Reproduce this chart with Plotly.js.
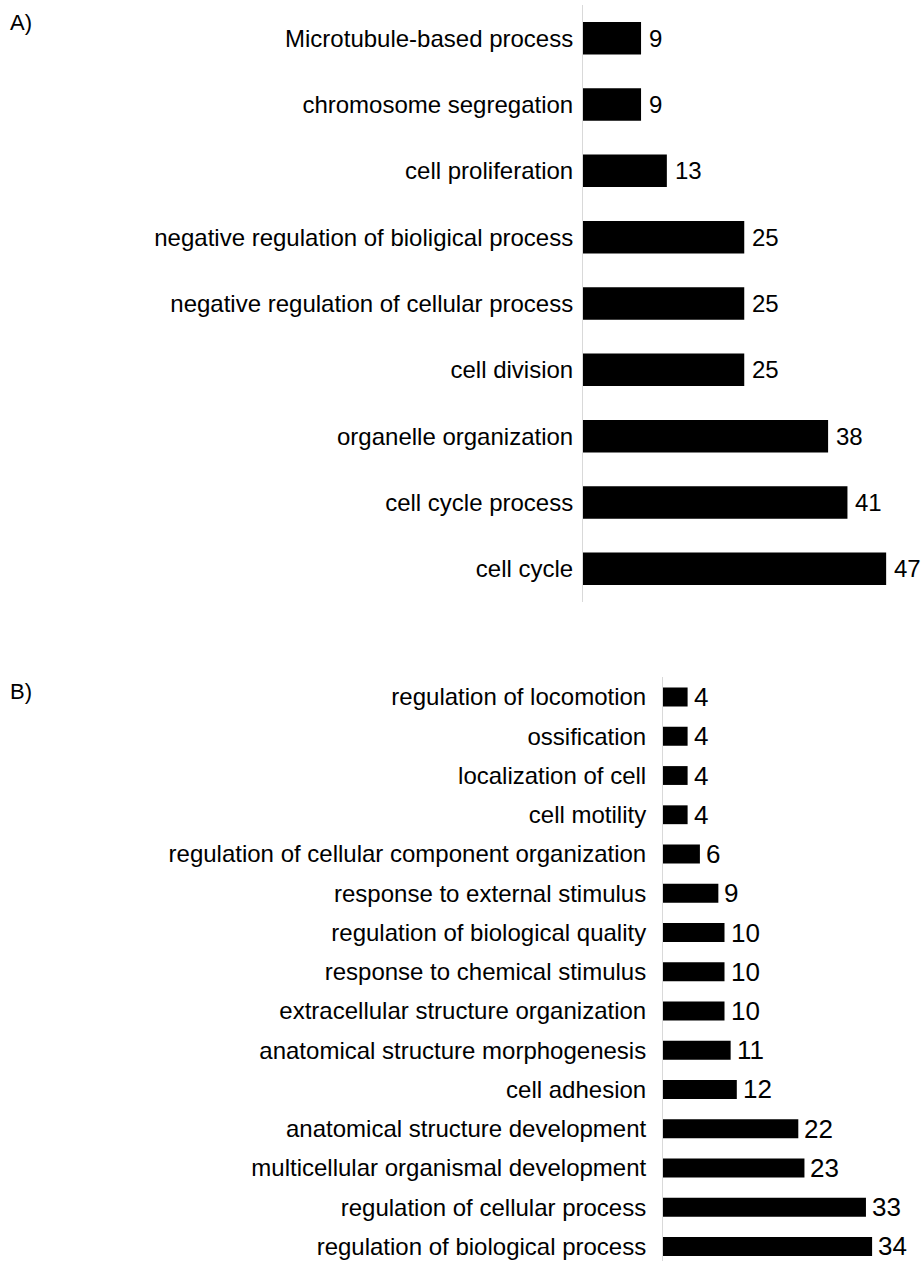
<!DOCTYPE html>
<html>
<head>
<meta charset="utf-8">
<script src="https://cdn.plot.ly/plotly-3.0.1.min.js"></script>
<style>html,body{margin:0;padding:0;background:#fff;}#chart{width:923px;height:1261px;}</style>
</head>
<body>
<div id="chart"></div>
<script>
// Panel A (top to bottom)
const categoriesA = [
  "Microtubule-based process",
  "chromosome segregation",
  "cell proliferation",
  "negative regulation of bioligical process",
  "negative regulation of cellular process",
  "cell division",
  "organelle organization",
  "cell cycle process",
  "cell cycle"
];
const valuesA = [9, 9, 13, 25, 25, 25, 38, 41, 47];

// Panel B (top to bottom)
const categoriesB = [
  "regulation of locomotion",
  "ossification",
  "localization of cell",
  "cell motility",
  "regulation of cellular component organization",
  "response to external stimulus",
  "regulation of biological quality",
  "response to chemical stimulus",
  "extracellular structure organization",
  "anatomical structure morphogenesis",
  "cell adhesion",
  "anatomical structure development",
  "multicellular organismal development",
  "regulation of cellular process",
  "regulation of biological process"
];
const valuesB = [4, 4, 4, 4, 6, 9, 10, 10, 10, 11, 12, 22, 23, 33, 34];

const panelLabels = ["A)", "B)"];

const FONT = "Liberation Sans, Arial, sans-serif";
const W = 923, H = 1261;

const traceA = {
  type: "bar", orientation: "h",
  x: valuesA, y: categoriesA,
  xaxis: "x", yaxis: "y",
  marker: {color: "#000000"},
  width: 0.49, hoverinfo: "skip"
};
const traceB = {
  type: "bar", orientation: "h",
  x: valuesB, y: categoriesB,
  xaxis: "x2", yaxis: "y2",
  marker: {color: "#000000"},
  width: 0.48, hoverinfo: "skip"
};

const valueAnnA = valuesA.map((v, i) => ({
  text: String(v), x: v, y: categoriesA[i], xref: "x", yref: "y",
  xanchor: "left", yanchor: "middle", xshift: 6, yshift: 0, showarrow: false,
  font: {family: FONT, size: 24, color: "#000"}
}));
const valueAnnB = valuesB.map((v, i) => ({
  text: String(v), x: v, y: categoriesB[i], xref: "x2", yref: "y2",
  xanchor: "left", yanchor: "middle", xshift: 4, yshift: 0, showarrow: false,
  font: {family: FONT, size: 26, color: "#000"}
}));

const layout = {
  width: W, height: H,
  margin: {l: 0, r: 0, t: 0, b: 0},
  paper_bgcolor: "#fff", plot_bgcolor: "#fff",
  showlegend: false,
  font: {family: FONT, color: "#000"},
  xaxis: {
    domain: [583 / W, 1], range: [0, 340 / 6.45],
    visible: false, fixedrange: true
  },
  yaxis: {
    domain: [1 - 602 / H, 1 - 5 / H], anchor: "x",
    type: "category", range: [8.5, -0.5],
    showgrid: false, zeroline: false,
    showline: true, linecolor: "#d9d9d9", linewidth: 1,
    ticks: "", ticklabelstandoff: 4,
    tickfont: {family: FONT, size: 24, color: "#000"},
    fixedrange: true
  },
  xaxis2: {
    domain: [663 / W, 1], range: [0, 260 / 6.15],
    anchor: "y2", visible: false, fixedrange: true
  },
  yaxis2: {
    domain: [0, 1 - 677.4 / H], anchor: "x2",
    type: "category", range: [14.37, -0.5],
    showgrid: false, zeroline: false,
    showline: true, linecolor: "#d9d9d9", linewidth: 1,
    ticks: "", ticklabelstandoff: 11,
    tickfont: {family: FONT, size: 24, color: "#000"},
    fixedrange: true
  },
  annotations: [
    {text: panelLabels[0], xref: "paper", yref: "paper", x: 8 / W, y: 1 - 8 / H,
     xanchor: "left", yanchor: "top", showarrow: false,
     font: {family: FONT, size: 22, color: "#000"}},
    {text: panelLabels[1], xref: "paper", yref: "paper", x: 8 / W, y: 1 - 677 / H,
     xanchor: "left", yanchor: "top", showarrow: false,
     font: {family: FONT, size: 22, color: "#000"}}
  ].concat(valueAnnA, valueAnnB)
};

Plotly.newPlot("chart", [traceA, traceB], layout, {staticPlot: true, displayModeBar: false});
</script>
</body>
</html>
